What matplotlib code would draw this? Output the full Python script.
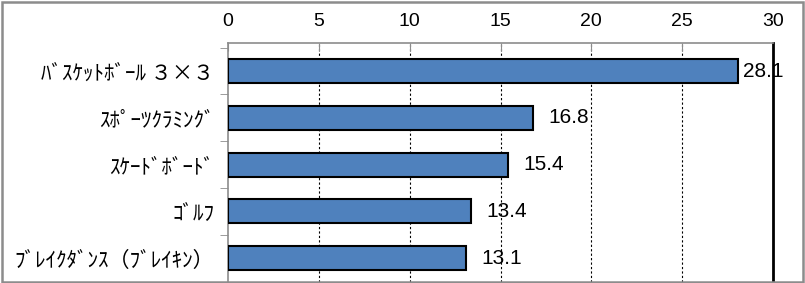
import matplotlib
matplotlib.use('Agg')
import matplotlib.pyplot as plt
from matplotlib.patches import Rectangle

plt.rcParams['font.family'] = ['Noto Sans CJK JP', 'DejaVu Sans']

# データ
categories = ['ﾊﾞｽｹｯﾄﾎﾞｰﾙ ３×３', 'ｽﾎﾟｰﾂｸﾗﾐﾝｸﾞ', 'ｽｹｰﾄﾞﾎﾞｰﾄﾞ', 'ｺﾞﾙﾌ', 'ﾌﾞﾚｲｸﾀﾞﾝｽ（ﾌﾞﾚｲｷﾝ）']
values = [28.1, 16.8, 15.4, 13.4, 13.1]
xticks = [0, 5, 10, 15, 20, 25, 30]

bar_color = '#4F81BD'
gray = '#8C8C8C'
num_font = ['Liberation Sans', 'DejaVu Sans']

fig = plt.figure(figsize=(8.05, 2.83), dpi=100)
ax = fig.add_axes([228/805, 1-282/283, (773-228)/805, (282-43)/283])

ypos = list(range(len(categories)))
ax.barh(ypos, values, height=0.51, color=bar_color, edgecolor='black', linewidth=1.5, zorder=3)

ax.set_xlim(0, 30)
ax.set_ylim(4.51, -0.6)

# 目盛り(上側)
ax.xaxis.tick_top()
ax.set_xticks(xticks)
ax.set_xticklabels([str(t) for t in xticks], fontsize=14, family=num_font)
ax.tick_params(axis='x', direction='in', length=6, color=gray, pad=9)

ax.set_yticks(ypos)
ax.set_yticklabels(categories, fontsize=15.2)
ax.tick_params(axis='y', which='major', length=0, pad=10)
ax.set_yticks([i - 0.5 for i in range(len(categories) + 1)], minor=True)
ax.tick_params(axis='y', which='minor', direction='out', length=6, color=gray)

# グリッド
for t in xticks[1:-1]:
    ax.axvline(t, color='black', linewidth=0.8, linestyle=(0, (2, 2)), zorder=1)

ax.spines['top'].set_color(gray)
ax.spines['left'].set_color(gray)
ax.spines['left'].set_linewidth(1.2)
ax.spines['top'].set_linewidth(1.2)
ax.spines['right'].set_color('black')
ax.spines['right'].set_linewidth(2)
ax.spines['bottom'].set_visible(False)

# 数値ラベル
for y, v in zip(ypos, values):
    off = 3 if v > 25 else 11
    ax.annotate(f'{v:.1f}', xy=(v, y), xytext=(off, 0), textcoords='offset points',
                va='center', ha='left', fontsize=15, family=num_font, zorder=4)

# 外枠
fig.patches.append(Rectangle((0.002, 0.004), 0.995, 0.99, transform=fig.transFigure,
                             fill=False, edgecolor=gray, linewidth=1.8))

fig.savefig('out.png', dpi=100)
